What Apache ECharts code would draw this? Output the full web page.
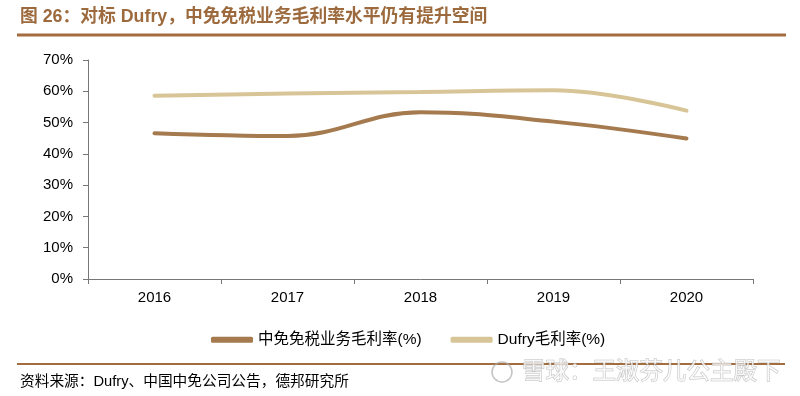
<!DOCTYPE html>
<html><head><meta charset="utf-8">
<script src="https://cdn.jsdelivr.net/npm/echarts@6/dist/echarts.min.js"></script>
<style>html,body{margin:0;padding:0;background:#fff}#c{width:800px;height:396px}</style>
</head><body><div id="c"></div>
<script>
var categories = ['2016', '2017', '2018', '2019', '2020'];
var cdfgMargin = [46.6, 45.7, 53.3, 50.3, 44.9];
var dufryMargin = [58.6, 59.3, 59.8, 60.3, 53.8];
var seriesNames = ['中免免税业务毛利率(%)', 'Dufry毛利率(%)'];
var titleText = '图 26：对标 Dufry，中免免税业务毛利率水平仍有提升空间';
var sourceText = '资料来源：Dufry、中国中免公司公告，德邦研究所';
var watermark = '雪球：王淑芬儿公主殿下';

var chart = echarts.init(document.getElementById('c'));
var font = '"Liberation Sans", Arial, "Noto Sans CJK SC", sans-serif';
chart.setOption({
  animation: false,
  textStyle: { fontFamily: font },
  grid: { left: 88, right: 47, top: 60, bottom: 117 },
  legend: {
    left: 206, top: 327, itemGap: 29, itemWidth: 42, itemHeight: 6,
    icon: 'roundRect',
    textStyle: { fontSize: 15.5, color: '#000', fontFamily: font, padding: [0, 0, 0, 0] },
    data: seriesNames
  },
  xAxis: {
    type: 'category', data: categories, boundaryGap: true,
    axisLine: { lineStyle: { color: '#777', width: 1 } },
    axisTick: { show: true, length: 5, lineStyle: { color: '#777' } },
    axisLabel: { fontSize: 15, color: '#000', margin: 11 }
  },
  yAxis: {
    type: 'value', min: 0, max: 70, interval: 10,
    axisLine: { show: true, lineStyle: { color: '#777', width: 1 } },
    axisTick: { show: true, length: 5, lineStyle: { color: '#777' } },
    splitLine: { show: false },
    axisLabel: { fontSize: 15, color: '#000', margin: 15, formatter: '{value}%' }
  },
  series: [
    { name: seriesNames[0], type: 'line', data: cdfgMargin, smooth: 0.4, symbol: 'none',
      lineStyle: { color: '#A47A4E', width: 4, cap: 'round' }, itemStyle: { color: '#A47A4E' } },
    { name: seriesNames[1], type: 'line', data: dufryMargin, smooth: 0.4, symbol: 'none',
      lineStyle: { color: '#D8C597', width: 4, cap: 'round' }, itemStyle: { color: '#D8C597' } }
  ],
  graphic: [
    { type: 'text', x: 20, y: 8, style: { text: titleText, fontSize: 17.8, fontWeight: 'bold', fill: '#9C6A3D', fontFamily: font } },
    { type: 'rect', shape: { x: 17, y: 33.5, width: 769, height: 3 }, style: { fill: '#A36D40' } },
    { type: 'rect', shape: { x: 17, y: 363, width: 768, height: 2 }, style: { fill: '#A36D40' } },
    { type: 'text', x: 20, y: 375, style: { text: sourceText, fontSize: 14.7, fill: '#000', fontFamily: font } },
    { type: 'circle', shape: { cx: 502, cy: 372, r: 10 }, style: { fill: 'none', stroke: 'rgba(170,170,170,0.7)', lineWidth: 1.5 } },
    { type: 'text', x: 522, y: 361, style: { text: watermark, fontSize: 23.5, fill: 'rgba(255,255,255,0.75)', stroke: 'rgba(150,150,150,0.6)', lineWidth: 1, fontFamily: font } }
  ]
});
</script></body></html>
